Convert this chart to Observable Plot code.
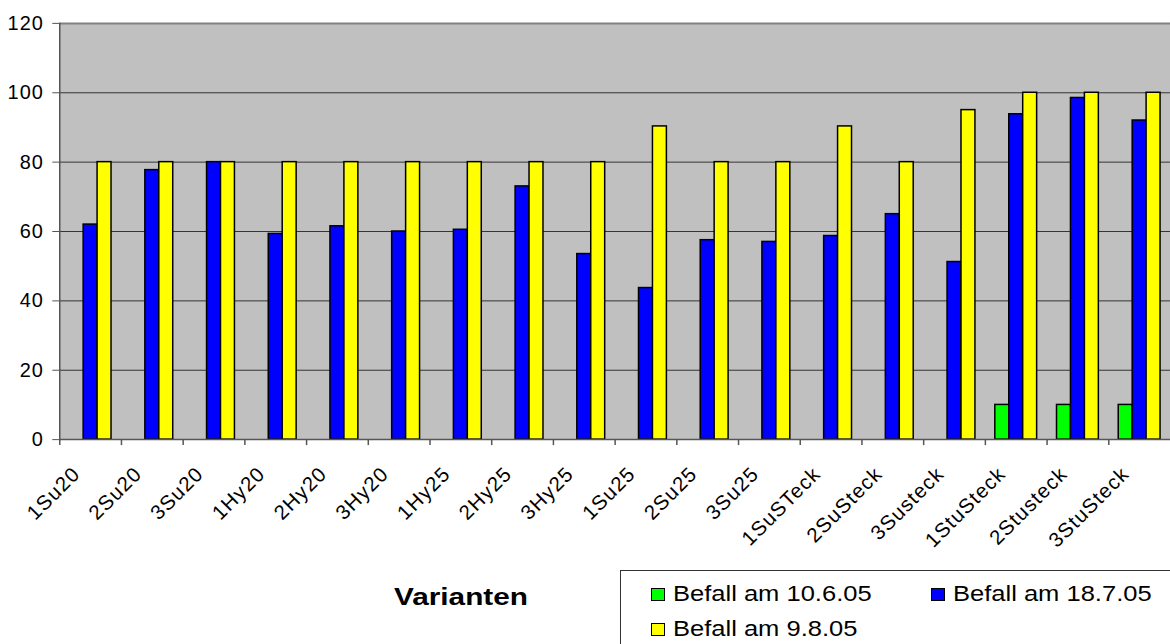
<!DOCTYPE html>
<html>
<head>
<meta charset="utf-8">
<script src="https://cdn.jsdelivr.net/npm/d3@7"></script>
<script src="https://cdn.jsdelivr.net/npm/@observablehq/plot@0.6"></script>
<style>
  html, body { margin: 0; padding: 0; background: #fff; overflow: hidden; }
  #wrap { position: relative; width: 1170px; height: 644px; overflow: hidden; font-family: "Liberation Sans", Arial, sans-serif; }
  #chart { position: absolute; left: 0; top: 0; }
  #xtitle { position: absolute; left: 394px; top: 583px; font-weight: bold; font-size: 24px; transform: scaleX(1.24); transform-origin: left center; }
  #legend { position: absolute; left: 620px; top: 570px; width: 600px; height: 90px; border: 1px solid #333; box-sizing: border-box; }
  .item { position: absolute; font-size: 22px; white-space: nowrap; display: flex; align-items: center; }
  .item span.t { display: inline-block; transform: scaleX(1.16); transform-origin: left center; }
  .sw { display: inline-block; width: 12px; height: 11px; border: 1.5px solid #000; margin-right: 8px; }
  .yax text { letter-spacing: 1px; }
  .xax text { letter-spacing: 1.2px; }
</style>
</head>
<body>
<div id="wrap">
  <div id="chart"></div>
  <div id="xtitle">Varianten</div>
  <div id="legend"></div>
</div>
<script>
const categories = ["1Su20","2Su20","3Su20","1Hy20","2Hy20","3Hy20","1Hy25","2Hy25","3Hy25","1Su25","2Su25","3Su25","1SuSTeck","2SuSteck","3Susteck","1StuSteck","2Stusteck","3StuSteck"];
const seriesNames = ["Befall am 10.6.05","Befall am 18.7.05","Befall am 9.8.05"];
const seriesColors = ["#00ff00","#0000ff","#ffff00"];
const befall1006 = [0,0,0,0,0,0,0,0,0,0,0,0,0,0,0,10,10,10];
const befall1807 = [62,77.7,80,59.3,61.5,60,60.5,73,53.5,43.7,57.5,57,58.7,65,51.2,93.8,98.5,92];
const befall0908 = [80,80,80,80,80,80,80,80,80,90.3,80,80,90.3,80,95,100,100,100];
const yTicks = [0,20,40,60,80,100,120];

const seriesValues = [befall1006, befall1807, befall0908];

const W = 1175, H = 560, ML = 59.5, MR = 0, MT = 23, MB = 119;
const bw = (W - ML - MR) / categories.length;
const barW = 14;
const yUnit = (H - MT - MB) / 120;

const marks = [
  Plot.frame({fill: "#c0c0c0", stroke: null}),
  Plot.ruleY(yTicks.filter(d => d > 0 && d < 120), {stroke: "#333", strokeWidth: 1}),
  Plot.ruleY([120], {stroke: "#808080", strokeWidth: 2}),
];

seriesValues.forEach((vals, i) => {
  const off = (i - 1) * barW;
  const data = categories.map((c, j) => ({cat: c, value: vals[j]})).filter(d => d.value > 0);
  marks.push(Plot.barY(data, {
    x: "cat", y: "value",
    fill: seriesColors[i], stroke: "#000", strokeWidth: 1.5,
    insetLeft: bw / 2 + off - barW / 2,
    insetRight: bw / 2 - off - barW / 2
  }));
});

marks.push(
  Plot.ruleY([0], {stroke: "#555", strokeWidth: 1.5}),
  Plot.frame({anchor: "left", stroke: "#555", strokeWidth: 1.5}),
  Plot.ruleX(categories, {x: d => d, y1: 0, y2: -6 / yUnit, dx: -bw / 2, stroke: "#555", strokeWidth: 1.5}),
  Plot.axisY({ticks: yTicks, tickSize: 7, tickPadding: 9, fontSize: 20, stroke: "#555", color: "#000", label: null, className: "yax"}),
  Plot.axisX({tickSize: 0, tickRotate: -45, tickPadding: 31, fontSize: 20.5, label: null, dx: -14, className: "xax"})
);

const chart = Plot.plot({
  width: W, height: H,
  marginLeft: ML, marginRight: MR, marginTop: MT, marginBottom: MB,
  style: {fontFamily: "'Liberation Sans', Arial, sans-serif", background: "transparent", overflow: "visible", color: "#000"},
  x: {type: "band", domain: categories, padding: 0, round: false, label: null},
  y: {domain: [0, 120], label: null},
  marks
});
document.getElementById("chart").appendChild(chart);

const legend = document.getElementById("legend");
const pos = [[30, 10], [310, 10], [30, 45]];
seriesNames.forEach((name, i) => {
  const it = document.createElement("div");
  it.className = "item";
  it.style.left = pos[i][0] + "px";
  it.style.top = pos[i][1] + "px";
  it.innerHTML = `<span class="sw" style="background:${seriesColors[i]}"></span><span class="t">${name}</span>`;
  legend.appendChild(it);
});
</script>
</body>
</html>
